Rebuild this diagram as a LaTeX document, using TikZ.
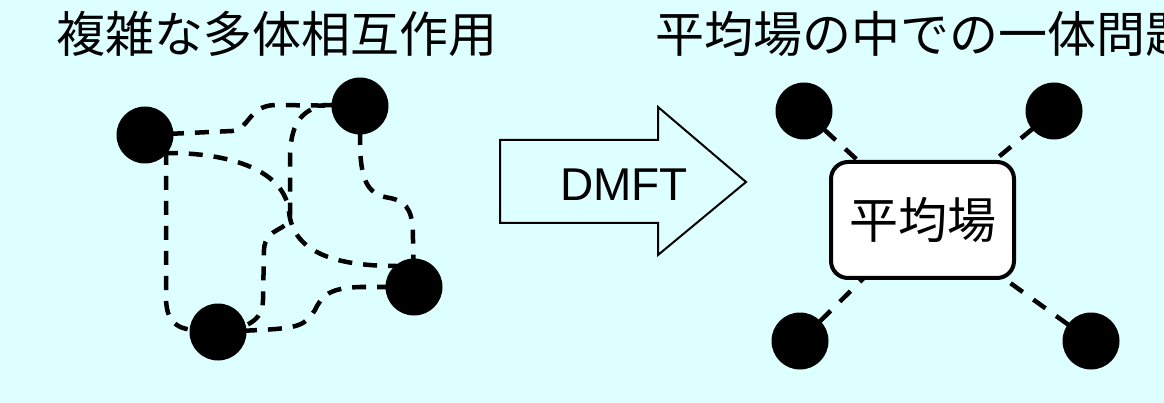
\documentclass[tikz,border=0pt]{standalone}
\usepackage{fontspec}
\newfontfamily\jp{Noto Sans CJK JP}
\newfontfamily\arial{Liberation Sans}
\definecolor{bgc}{HTML}{DDFFFF}
\pgfdeclarelayer{back}
\pgfdeclarelayer{bg}
\pgfsetlayers{back,bg,main}
\begin{document}
\begin{tikzpicture}[x=1pt,y=-1pt,
  dot/.style={circle,fill=black,minimum size=57pt,inner sep=0pt},
  dline/.style={line width=4.5pt,dash pattern=on 14pt off 11pt},
  rline/.style={line width=4.5pt,dash pattern=on 15pt off 13pt},
  title/.style={anchor=base west,inner sep=0pt,font=\jp\fontsize{49}{49}\selectfont},
  mfbox/.style={draw,line width=4pt,rounded corners=17pt,fill=white,minimum width=183pt,minimum height=116pt,inner sep=0pt,font=\jp\fontsize{49}{49}\selectfont}]
\begin{pgfonlayer}{back}
\fill[bgc] (0,0) rectangle (1164,403);
\end{pgfonlayer}
\useasboundingbox (0,0) rectangle (1164,403);

% titles
\node[title] (t1) at (56,53) {複雑な多体相互作用};
\node[title] (t2) at (655,53) {平均場の中での一体問題};

% left: many-body
\node[dot] (A) at (145,135) {};
\node[dot] (B) at (360,106) {};
\node[dot] (C) at (414,287) {};
\node[dot] (D) at (218,332) {};

\begin{pgfonlayer}{bg}
\draw[dline] (A.center) -- (232,131) .. controls (250,129) and (248,106) .. (275,105) -- (B.center);
\draw[dline] (A.center) -- (168,153) .. controls (230,153) and (285,170) .. (289,212) .. controls (293,250) and (330,266) .. (396,266) -- (C.center);
\draw[dline] (A.center) -- (166,155) -- (166,300) .. controls (167,320) and (175,329) .. (195,330) -- (D.center);
\draw[dline] (B.center) -- (325,105) .. controls (300,110) and (290,125) .. (290,160) -- (290,215) .. controls (290,232) and (265,226) .. (264,250) -- (263,300) .. controls (263,315) and (255,328) .. (D.center);
\draw[dline] (B.center) -- (360,140) .. controls (360,185) and (370,195) .. (390,198) .. controls (410,202) and (413,215) .. (413,240) -- (C.center);
\draw[dline] (D.center) -- (260,330) .. controls (300,328) and (305,325) .. (315,310) .. controls (322,295) and (330,288) .. (360,287) -- (C.center);
\end{pgfonlayer}

% arrow
\node[font=\arial\fontsize{46}{46}\selectfont,inner sep=0pt] (dmft) at (624,185) {DMFT};
\draw[line width=2pt,line join=miter] (500,140) -- (658,140) -- (658,107) -- (746,182) -- (658,255) -- (658,223) -- (500,223) -- cycle;

% right: mean field
\node[mfbox] (mf) at (922.5,220) {\raisebox{-2pt}{平均場}};
\node[dot] (p1) at (804,111) {};
\node[dot] (p2) at (1054,111) {};
\node[dot] (p3) at (800,341) {};
\node[dot] (p4) at (1091,341) {};
\begin{pgfonlayer}{bg}
\foreach \p in {p1,p2,p3,p4}
  \draw[rline] (\p.center) -- (mf.center);
\end{pgfonlayer}
\end{tikzpicture}
\end{document}
